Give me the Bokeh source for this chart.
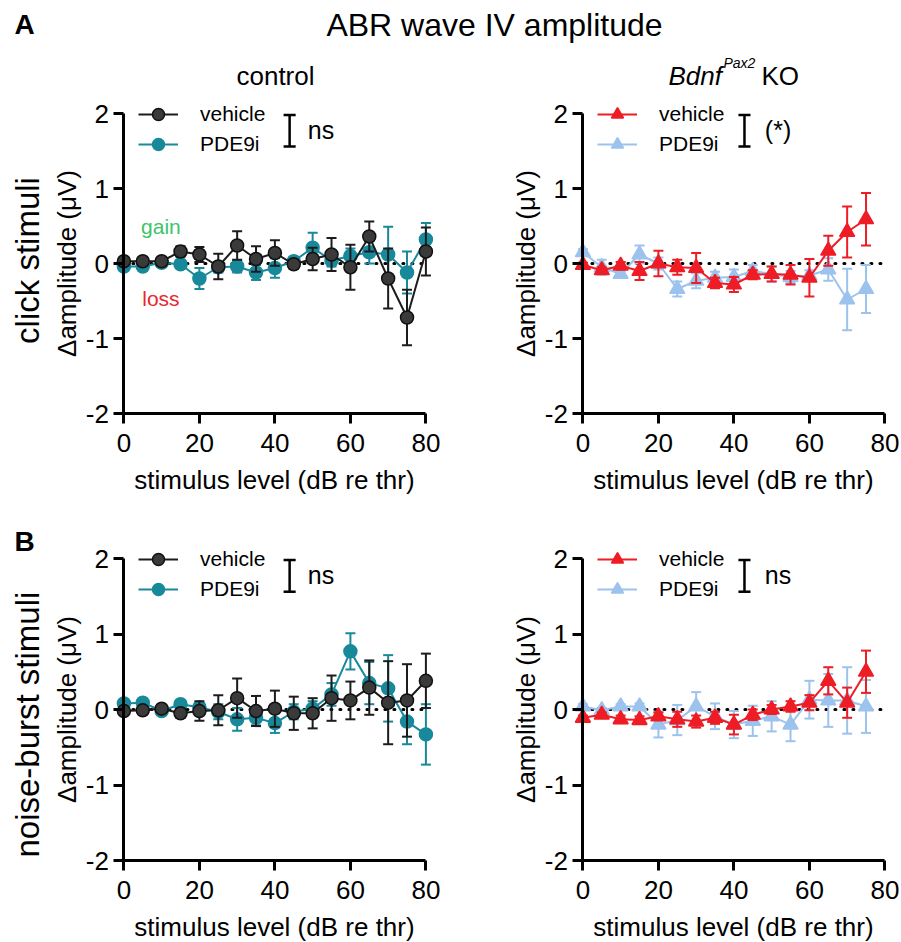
import math
from bokeh.plotting import figure
from bokeh.layouts import column, row
from bokeh.models import Range1d, FixedTicker, Label, Legend, LegendItem
from bokeh.embed import file_html
from bokeh.resources import INLINE

FONT = "Liberation Sans"

# ---------------- data ----------------
levels_ctrl = [0, 5, 10, 15, 20, 25, 30, 35, 40, 45, 50, 55, 60, 65, 70, 75, 80]
levels_ko = [0, 5, 10, 15, 20, 25, 30, 35, 40, 45, 50, 55, 60, 65, 70, 75]

# A: click stimuli, control
click_ctrl_veh = [0.03, 0.03, 0.03, 0.16, 0.12, -0.04, 0.24, 0.06, 0.14, -0.01, 0.06, 0.12, -0.05, 0.36, -0.20, -0.72, 0.16]
click_ctrl_veh_sem = [0.02, 0.03, 0.04, 0.07, 0.10, 0.17, 0.19, 0.17, 0.17, 0.06, 0.15, 0.22, 0.30, 0.20, 0.40, 0.37, 0.32]
click_ctrl_pde = [-0.04, -0.04, 0.01, -0.01, -0.20, -0.05, -0.04, -0.12, -0.06, 0.03, 0.21, 0.04, 0.10, 0.15, 0.12, -0.12, 0.32]
click_ctrl_pde_sem = [0.02, 0.03, 0.04, 0.05, 0.14, 0.07, 0.08, 0.10, 0.13, 0.06, 0.20, 0.08, 0.10, 0.15, 0.37, 0.28, 0.22]

# A: click stimuli, Bdnf Pax2 KO
click_ko_veh = [-0.02, -0.09, -0.03, -0.10, 0.00, -0.05, -0.06, -0.26, -0.28, -0.15, -0.14, -0.15, -0.19, 0.17, 0.42, 0.59]
click_ko_veh_sem = [0.03, 0.04, 0.05, 0.12, 0.17, 0.10, 0.20, 0.07, 0.10, 0.06, 0.10, 0.13, 0.25, 0.20, 0.34, 0.35]
click_ko_pde = [0.15, -0.05, -0.14, 0.12, 0.00, -0.34, -0.23, -0.19, -0.18, -0.10, -0.14, -0.18, -0.16, -0.08, -0.48, -0.34]
click_ko_pde_sem = [0.04, 0.10, 0.04, 0.12, 0.08, 0.10, 0.10, 0.08, 0.10, 0.08, 0.10, 0.08, 0.07, 0.15, 0.41, 0.32]

# B: noise-burst stimuli, control
noise_ctrl_veh = [-0.02, -0.01, 0.01, -0.05, -0.02, -0.01, 0.15, -0.02, 0.01, -0.05, -0.05, 0.15, 0.12, 0.29, 0.09, 0.12, 0.38]
noise_ctrl_veh_sem = [0.02, 0.03, 0.04, 0.06, 0.13, 0.20, 0.26, 0.20, 0.24, 0.22, 0.20, 0.30, 0.25, 0.36, 0.55, 0.48, 0.36]
noise_ctrl_pde = [0.08, 0.09, -0.02, 0.07, 0.03, -0.03, -0.13, -0.11, -0.18, -0.03, 0.01, 0.20, 0.77, 0.35, 0.28, -0.16, -0.33]
noise_ctrl_pde_sem = [0.03, 0.03, 0.03, 0.04, 0.05, 0.10, 0.15, 0.10, 0.13, 0.10, 0.10, 0.15, 0.24, 0.28, 0.44, 0.30, 0.40]

# B: noise-burst stimuli, Bdnf Pax2 KO
noise_ko_veh = [-0.11, -0.07, -0.13, -0.14, -0.09, -0.13, -0.16, -0.11, -0.20, -0.07, 0.00, 0.04, 0.09, 0.38, 0.09, 0.50]
noise_ko_veh_sem = [0.03, 0.03, 0.05, 0.05, 0.05, 0.10, 0.08, 0.08, 0.13, 0.07, 0.06, 0.07, 0.10, 0.18, 0.20, 0.28]
noise_ko_pde = [0.04, -0.01, 0.04, 0.04, -0.20, -0.14, 0.04, -0.09, -0.20, -0.15, -0.09, -0.20, 0.13, 0.12, 0.12, 0.04]
noise_ko_pde_sem = [0.03, 0.03, 0.03, 0.04, 0.17, 0.20, 0.19, 0.17, 0.18, 0.20, 0.20, 0.22, 0.25, 0.35, 0.44, 0.35]

x_ticks = [0, 20, 40, 60, 80]
y_ticks = [-2, -1, 0, 1, 2]
y_tick_labels = ["-2", "-1", "0", "1", "2"]
series_labels = ["vehicle", "PDE9i"]

# ---------------- styles ----------------
CTRL_VEH = dict(line="#1c1c1c", fill="#3a3a3a", edge="#111111")
CTRL_PDE = dict(line="#18899a", fill="#18899a", edge="#18899a")
KO_VEH = dict(line="#ee1d25", fill="#ee1d25", edge="#ee1d25")
KO_PDE = dict(line="#9cc2ee", fill="#9cc2ee", edge="#9cc2ee")


def add_series(p, xs, m, s, st, marker, msize):
    lo = [a - b for a, b in zip(m, s)]
    hi = [a + b for a, b in zip(m, s)]
    p.segment(x0=xs, y0=lo, x1=xs, y1=hi, line_color=st["line"], line_width=2)
    p.scatter(x=xs + xs, y=lo + hi, marker="dash", size=10, line_color=st["line"], line_width=2)
    ln = p.line(xs, m, line_color=st["line"], line_width=2)
    sc = p.scatter(xs, m, marker=marker, size=msize, fill_color=st["fill"],
                   line_color=st["edge"], line_width=1.5)
    return ln, sc


def make_panel(xs, veh, veh_sem, pde, pde_sem, st_veh, st_pde, marker, msize,
               W, H, x0, t0, frame_h, sig_text, bracket_x, sig_x,
               legend_xy, row_label=None, row_label_y=0.0, gain_loss=False,
               panel_letter=None):
    sx = 302.0 / (x_ticks[-1] - x_ticks[0])
    sy = frame_h / (y_ticks[-1] - y_ticks[0])
    p = figure(width=W, height=H, min_border=0,
               x_range=Range1d(x_ticks[0] - x0 / sx, x_ticks[0] + (W - x0) / sx),
               y_range=Range1d(y_ticks[-1] - (H - t0) / sy, y_ticks[-1] + t0 / sy),
               toolbar_location=None, output_backend="svg",
               outline_line_color=None, background_fill_color="white")
    p.xgrid.grid_line_color = None
    p.ygrid.grid_line_color = None
    for ax in (p.xaxis[0], p.yaxis[0]):
        ax.axis_line_width = 3
        ax.axis_line_color = "black"
        ax.major_tick_line_width = 3
        ax.major_tick_line_color = "black"
        ax.major_tick_out = 10
        ax.major_tick_in = 0
        ax.minor_tick_line_color = None
        ax.major_label_text_font = FONT
        ax.major_label_text_font_size = "26px"
        ax.major_label_text_color = "black"
        ax.axis_label_text_font = FONT
        ax.axis_label_text_font_size = "26px"
        ax.axis_label_text_font_style = "normal"
        ax.axis_label_text_color = "black"
    p.xaxis.major_label_standoff = 10
    p.yaxis.major_label_standoff = 5
    p.xaxis.ticker = FixedTicker(ticks=x_ticks)
    p.yaxis.ticker = FixedTicker(ticks=y_ticks)
    p.yaxis.major_label_overrides = {t: s for t, s in zip(y_ticks, y_tick_labels)}
    p.xaxis.bounds = (x_ticks[0], x_ticks[-1])
    p.yaxis.bounds = (y_ticks[0], y_ticks[-1])
    p.yaxis.fixed_location = x_ticks[0]
    p.xaxis.fixed_location = y_ticks[0]
    p.xaxis.axis_label = "stimulus level (dB re thr)"
    p.yaxis.axis_label = "Δamplitude (μV)"
    p.xaxis.axis_label_standoff = 10
    p.yaxis.axis_label_standoff = 0

    # zero reference line
    p.line([x_ticks[0], x_ticks[-1]], [0, 0], line_color="black", line_width=3,
           line_dash="1 8", line_cap="round")

    lp, sp = add_series(p, xs, pde, pde_sem, st_pde, marker, msize)
    lv, sv = add_series(p, xs, veh, veh_sem, st_veh, marker, msize)

    legend = Legend(items=[LegendItem(label=series_labels[0], renderers=[lv, sv]),
                           LegendItem(label=series_labels[1], renderers=[lp, sp])],
                    location=legend_xy, padding=0, margin=0, spacing=0,
                    glyph_width=40, glyph_height=30, label_height=20,
                    label_standoff=22, label_text_font=FONT,
                    label_text_font_size="21px", label_text_color="black",
                    background_fill_alpha=0, border_line_color=None)
    p.add_layout(legend, "center")

    # significance bracket
    cap = 1.6
    p.segment(x0=[bracket_x, bracket_x - cap, bracket_x - cap],
              y0=[1.98, 1.98, 1.56],
              x1=[bracket_x, bracket_x + cap, bracket_x + cap],
              y1=[1.56, 1.98, 1.56], line_color="black", line_width=2.5)
    p.add_layout(Label(x=sig_x, y=1.78, text=sig_text, text_font=FONT,
                       text_font_size="25px", text_baseline="middle",
                       text_align="left", text_color="black"))
    if gain_loss:
        p.add_layout(Label(x=9.8, y=0.5, text="gain", text_font=FONT,
                           text_font_size="21px", text_align="center",
                           text_baseline="middle", text_color="#3dc46b"))
        p.add_layout(Label(x=9.8, y=-0.47, text="loss", text_font=FONT,
                           text_font_size="21px", text_align="center",
                           text_baseline="middle", text_color="#e8282b"))
    if row_label:
        p.add_layout(Label(x=-25.5, y=row_label_y, text=row_label, text_font=FONT,
                           text_font_size="33px", text_align="center",
                           text_baseline="middle", angle=math.pi / 2,
                           text_color="black"))
    if panel_letter:
        # panel letter placed in screen pixels from the figure's top-left
        p.add_layout(Label(x=24, y=H - 36, x_units="screen", y_units="screen",
                           text=panel_letter, text_font=FONT, text_font_size="28px",
                           text_font_style="bold", text_align="center",
                           text_baseline="middle", text_color="black"))
    return p


def header(h):
    p = figure(width=901, height=h, x_range=Range1d(0, 901), y_range=Range1d(h, 0),
               toolbar_location=None, output_backend="svg", min_border=0,
               x_axis_type=None, y_axis_type=None, outline_line_color=None)
    p.xgrid.grid_line_color = None
    p.ygrid.grid_line_color = None
    return p


hA = header(100)
hA.add_layout(Label(x=24, y=24, text="A", text_font=FONT, text_font_size="28px",
                    text_font_style="bold", text_align="center", text_baseline="middle",
                    text_color="black"))
hA.add_layout(Label(x=494, y=24, text="ABR wave IV amplitude", text_font=FONT,
                    text_font_size="32px", text_align="center", text_baseline="middle",
                    text_color="black"))
hA.add_layout(Label(x=275, y=75, text="control", text_font=FONT, text_font_size="26px",
                    text_align="center", text_baseline="alphabetic", text_color="black"))
hA.add_layout(Label(x=668, y=75, text="Bdnf", text_font=FONT, text_font_size="26px",
                    text_font_style="italic", text_align="left", text_baseline="alphabetic",
                    text_color="black"))
hA.add_layout(Label(x=723, y=62, text="Pax2", text_font=FONT, text_font_size="14px",
                    text_font_style="italic", text_align="left", text_baseline="alphabetic",
                    text_color="black"))
hA.add_layout(Label(x=761, y=75, text="KO", text_font=FONT, text_font_size="26px",
                    text_align="left", text_baseline="alphabetic", text_color="black"))

pA1 = make_panel(levels_ctrl, click_ctrl_veh, click_ctrl_veh_sem, click_ctrl_pde, click_ctrl_pde_sem,
                 CTRL_VEH, CTRL_PDE, "circle", 13, 450, 405, 123.4, 13, 300, "ns", 43.9, 48.7,
                 (138, 346), row_label="click stimuli", row_label_y=0.04, gain_loss=True)
pA2 = make_panel(levels_ko, click_ko_veh, click_ko_veh_sem, click_ko_pde, click_ko_pde_sem,
                 KO_VEH, KO_PDE, "triangle", 15, 451, 405, 132.4, 13, 300, "(*)", 42.8, 48.2,
                 (147, 346))
pB1 = make_panel(levels_ctrl, noise_ctrl_veh, noise_ctrl_veh_sem, noise_ctrl_pde, noise_ctrl_pde_sem,
                 CTRL_VEH, CTRL_PDE, "circle", 13, 450, 437, 123.4, 53, 302, "ns", 43.9, 48.7,
                 (138, 338), row_label="noise-burst stimuli", row_label_y=-0.2,
                 panel_letter="B")
pB2 = make_panel(levels_ko, noise_ko_veh, noise_ko_veh_sem, noise_ko_pde, noise_ko_pde_sem,
                 KO_VEH, KO_PDE, "triangle", 15, 451, 437, 132.4, 53, 302, "ns", 42.8, 48.2,
                 (147, 338))

layout = column(hA, row(pA1, pA2), row(pB1, pB2))

open("out.html", "w").write(file_html(layout, INLINE))
